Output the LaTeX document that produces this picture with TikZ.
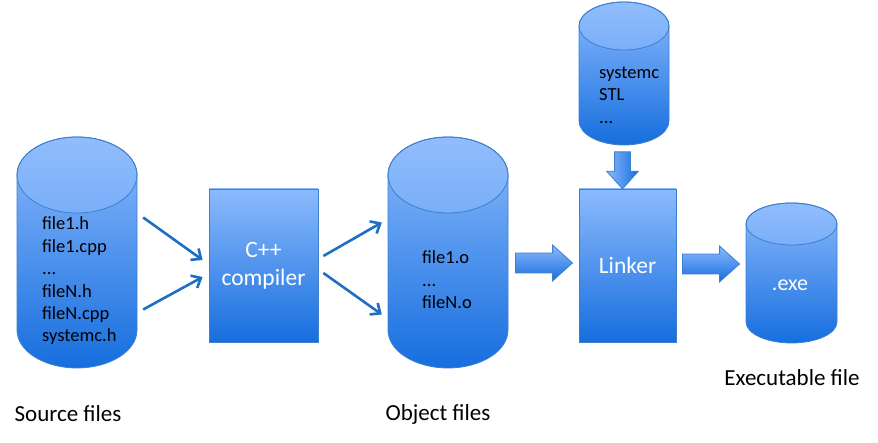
\documentclass[tikz,border=0pt]{standalone}
\usepackage{fontspec}
\setmainfont{Carlito}
\usetikzlibrary{arrows.meta,shapes.arrows}
\definecolor{gtop}{RGB}{140,186,253}
\definecolor{gbot}{RGB}{22,110,222}
\definecolor{bord}{RGB}{60,128,206}
\definecolor{arr}{RGB}{30,110,195}
% #1 cx, #2 top ellipse centre y, #3 bottom ellipse centre y, #4 rx, #5 ry, #6 name
\newcommand\drawcyl[6]{%
  \shade[top color=gtop,bottom color=gbot]
    ({#1-#4},#2) -- ({#1-#4},#3) arc[start angle=180,end angle=360,x radius=#4,y radius=#5]
    -- ({#1+#4},#2) arc[start angle=0,end angle=180,x radius=#4,y radius=#5] -- cycle;
  \shade[top color=gtop!96!white,bottom color=gtop!85!gbot] (#1,#2) ellipse[x radius=#4,y radius=#5];
  \draw[bord,line width=0.8pt]
    ({#1-#4},#2) -- ({#1-#4},#3) arc[start angle=180,end angle=360,x radius=#4,y radius=#5]
    -- ({#1+#4},#2) arc[start angle=0,end angle=180,x radius=#4,y radius=#5] -- cycle;
  \draw[bord,line width=0.8pt] (#1,#2) ellipse[x radius=#4,y radius=#5];
  \node[inner sep=0,minimum width={2*#4},minimum height={#2-#3+2*#5}] (#6) at ({#1},{(#2+#3)/2}) {};
}
\begin{document}
\begin{tikzpicture}[x=1pt,y=1pt,
  procbox/.style={draw=bord,line width=0.8pt,top color=gtop,bottom color=gbot,
    text=white,font=\fontsize{23.5}{28}\selectfont,align=center,inner sep=0},
  inner/.style={font=\fontsize{18.5}{22.4}\selectfont,align=left,anchor=west,inner sep=0},
  label/.style={font=\fontsize{23}{27}\selectfont,inner sep=0},
  thin/.style={arr,line width=2.6pt,-{Straight Barb[length=8pt,width=14pt,line width=2.6pt]}},
  blockarr/.style={single arrow,draw=bord,line width=0.8pt,inner sep=0,text height=19pt,text depth=0pt,
    text width=0pt,single arrow head extend=8pt,single arrow tip angle=84}
]
\useasboundingbox (0,0) rectangle (878,443);

% cylinders
\drawcyl{77}{268}{113}{60}{38}{src}
\drawcyl{448}{268}{113}{60}{38}{obj}
\drawcyl{624}{417}{322}{45}{24}{lib}
\drawcyl{791.5}{219}{121}{45.5}{21}{exe}

% texts in cylinders
\node[inner] (srctext) at (42,162) {file1.h\\file1.cpp\\...\\fileN.h\\fileN.cpp\\systemc.h};
\node[inner] (objtext) at (422,163) {file1.o\\...\\fileN.o};
\node[inner] (libtext) at (599,348) {systemc\\STL\\...};
\node[text=white,font=\fontsize{22}{26}\selectfont,inner sep=0] (exetext) at (790,158) {.exe};

% boxes
\node[procbox,minimum width=109pt,minimum height=153pt] (comp) at (263.5,177.5) {C++\\compiler};
\node[procbox,minimum width=97pt,minimum height=153pt] (link) at (627.5,177.5) {Linker};

% thin arrows
\draw[thin] ([shift={(6,35)}]src.east) -- ([shift={(-6,5.5)}]comp.west);
\draw[thin] ([shift={(6,-57)}]src.east) -- ([shift={(-6,-11.5)}]comp.west);
\draw[thin] ([shift={(5,9.5)}]comp.east) -- ([shift={(-6,30)}]obj.west);
\draw[thin] ([shift={(5,-7.5)}]comp.east) -- ([shift={(-6,-62)}]obj.west);

% block arrows
\node[blockarr,minimum height=57pt,top color=gtop,bottom color=gbot] (a1) at (538.5,180) {};
\node[blockarr,minimum height=57pt,top color=gtop,bottom color=gbot] (a2) at (705.5,179) {};
\node[blockarr,minimum height=37pt,text height=15pt,single arrow head extend=8pt,rotate=-90,
  left color=gtop,right color=gbot] (a3) at (622.5,277) {};

% labels
\node[label] (lsrc) at (68,29) {Source files};
\node[label] (lobj) at (438,29) {Object files};
\node[label] (lexe) at (792,65) {Executable file};
\end{tikzpicture}
\end{document}
